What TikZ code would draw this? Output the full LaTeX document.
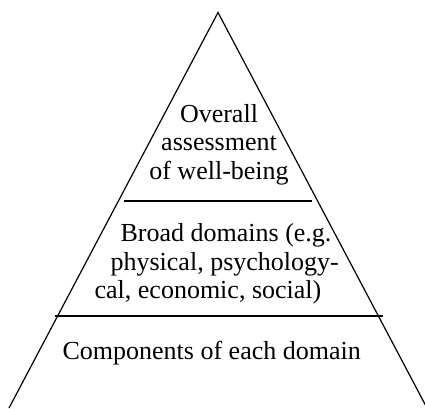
\documentclass[tikz,border=0pt]{standalone}
\usepackage{fontspec}
\setmainfont{Liberation Serif}
\usetikzlibrary{positioning}
\tikzset{every picture/.style={line width=1.2pt}}
\tikzset{font=\fontsize{26}{28.5}\selectfont}
\tikzstyle{txt}=[inner sep=0pt]

\begin{document}
\begin{tikzpicture}[x=1pt,y=-1pt]
\useasboundingbox (0,0) rectangle (425,408);
\coordinate (A) at (218,12.5);
\coordinate (L) at (9,408);
\coordinate (R) at (427,408);
\coordinate (U1) at (124,201);
\coordinate (U2) at (312,201);
\coordinate (M1) at (55,316);
\coordinate (M2) at (383,316);
\draw (L) -- (A) -- (R);
\draw (U1) -- (U2);
\draw (M1) -- (M2);
\node[txt,align=center,anchor=base] (top) at (219,179) {Overall\\assessment\\of well-being};
\node[txt,anchor=base west] (mid1) at (120,241) {Broad domains (e.g.};
\node[txt,anchor=base west] (mid2) at (110,270) {physical, psychology-};
\node[txt,anchor=base west] (mid3) at (94,298) {cal, economic, social)};
\node[txt,anchor=base west] (bot) at (62,359) {Components of each domain};
\end{tikzpicture}
\end{document}
